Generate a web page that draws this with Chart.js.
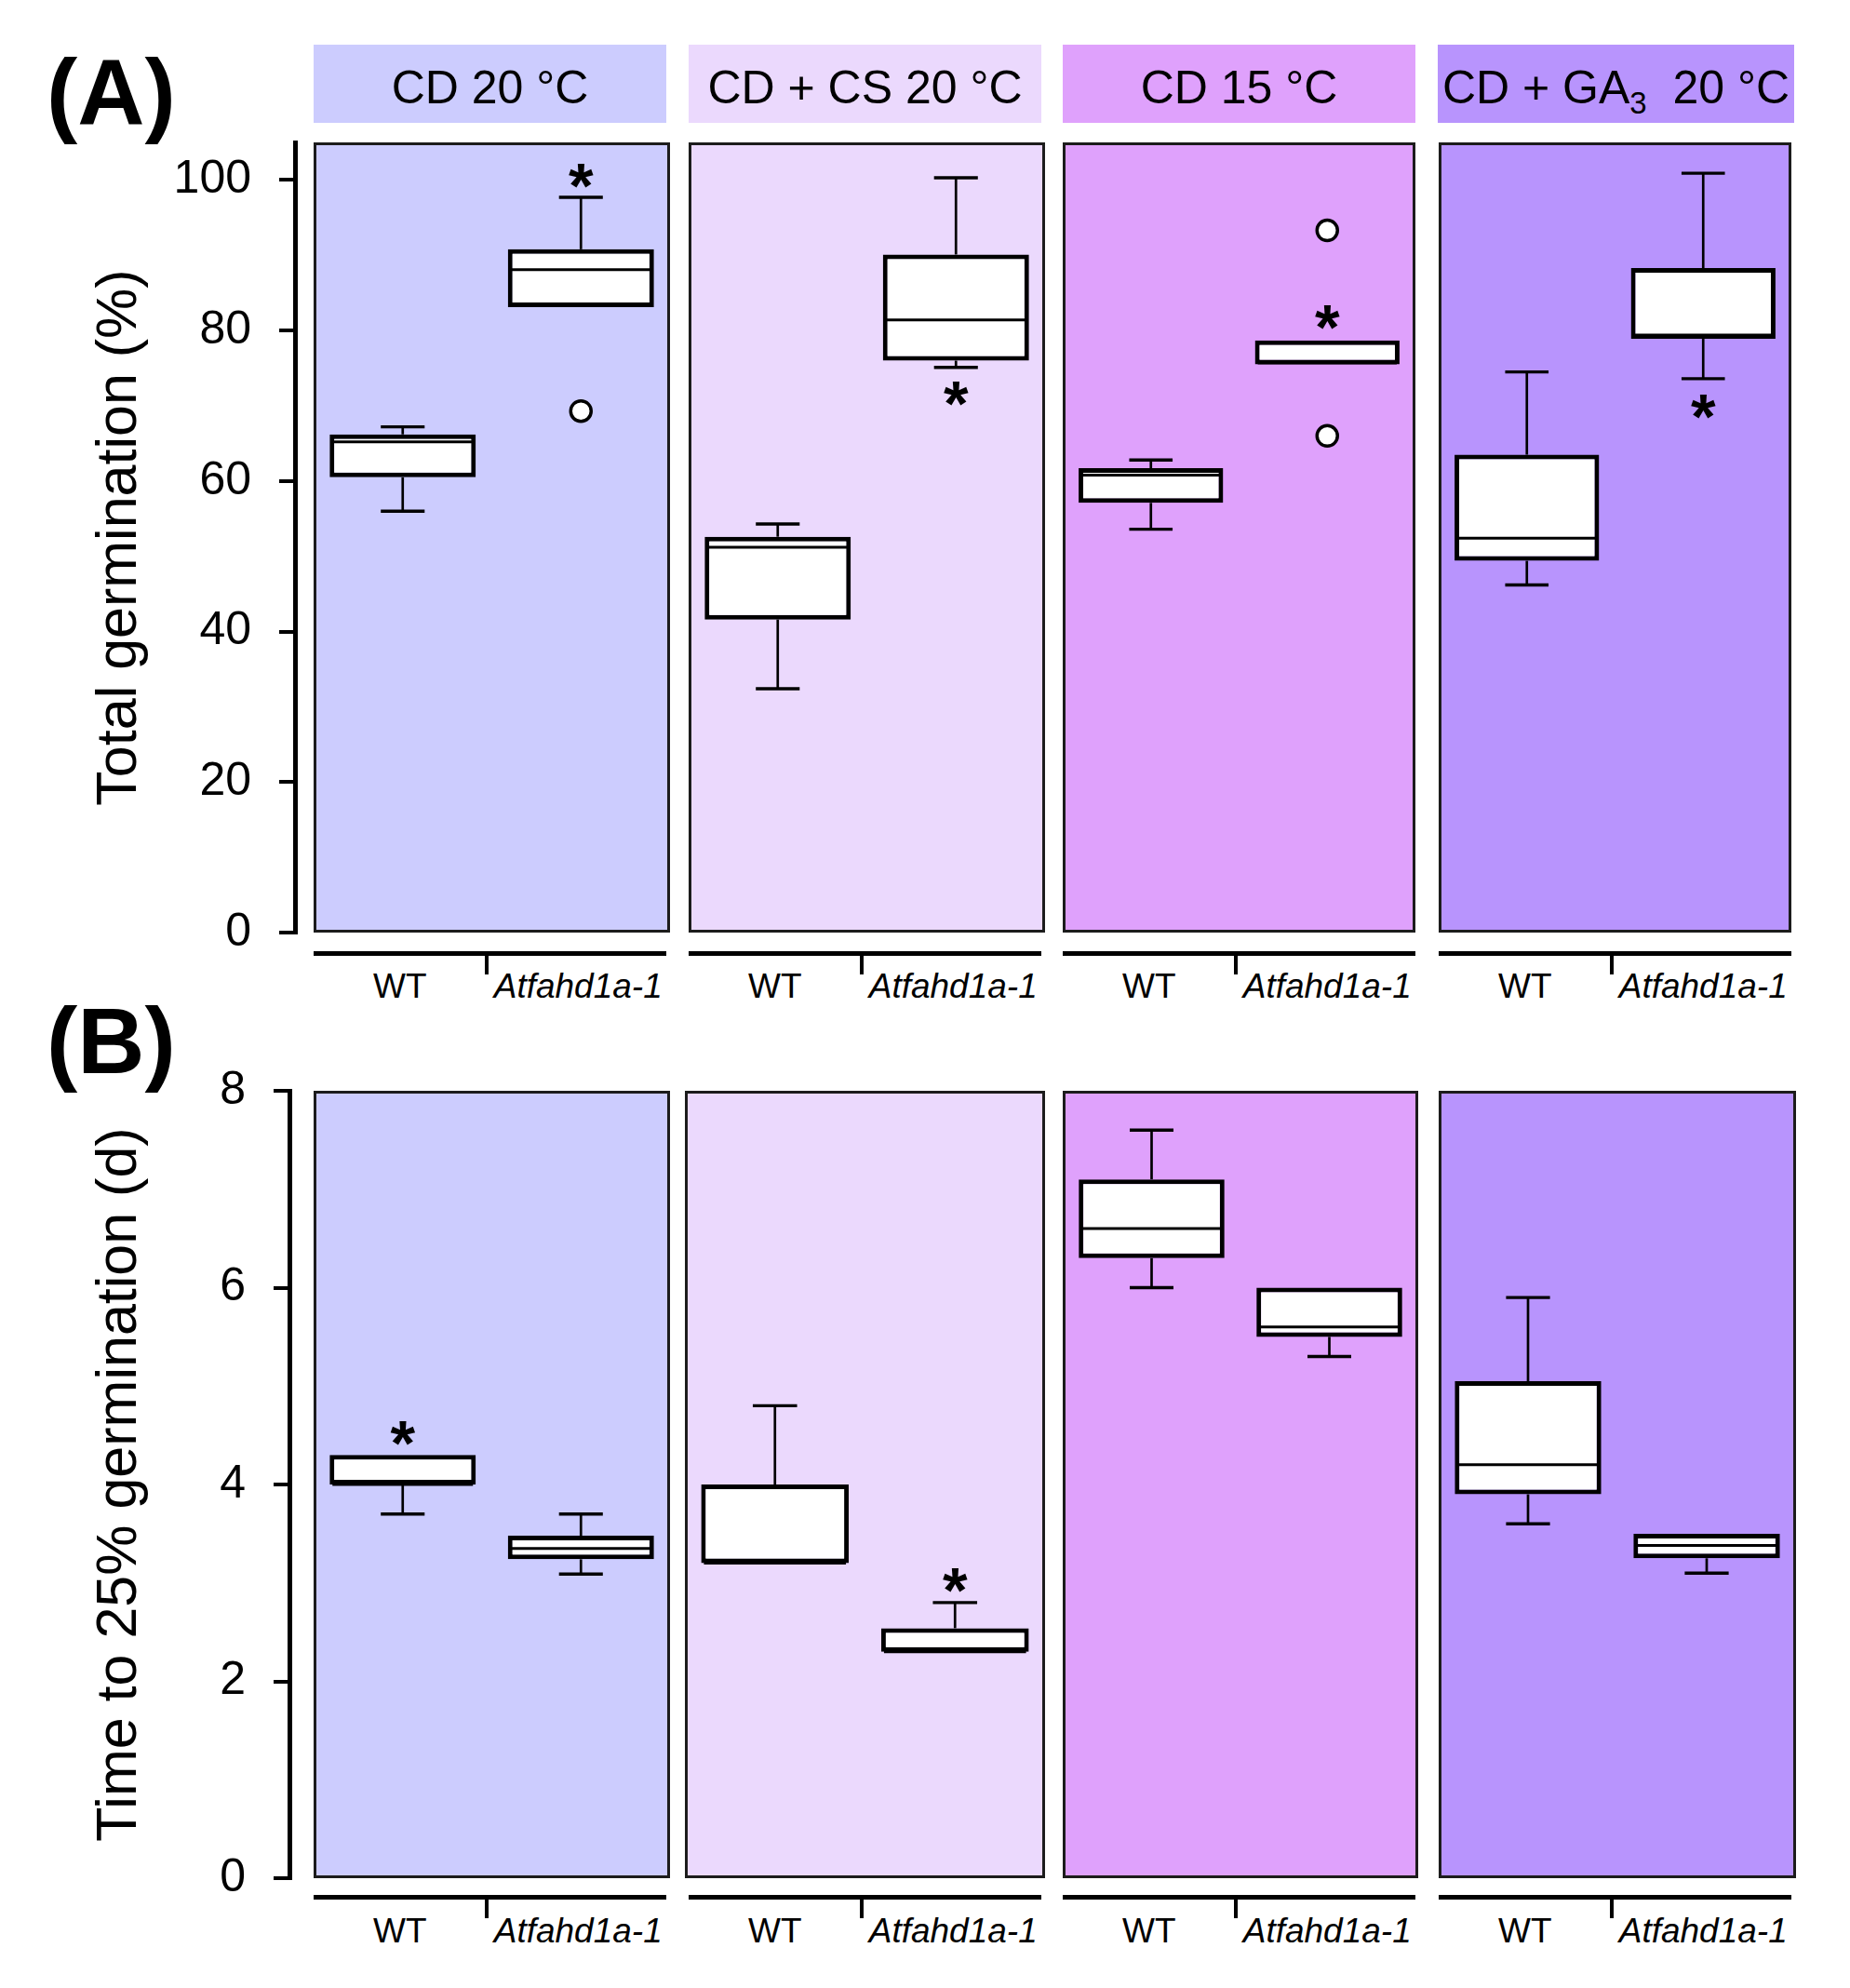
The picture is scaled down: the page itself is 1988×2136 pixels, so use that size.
<!DOCTYPE html>
<html>
<head>
<meta charset="utf-8">
<script src="https://cdn.jsdelivr.net/npm/chart.js@4.4.1/dist/chart.umd.min.js"></script>
<style>
  html, body { margin: 0; background: #fff; }
  #figure {
    position: relative;
    width: 1988px;
    height: 2136px;
    overflow: hidden;
    font-family: "Liberation Sans", Arial, sans-serif;
    color: #000;
  }
  .txt { position: absolute; white-space: nowrap; }
  .blk { position: absolute; }
  sub { font-size: 0.66em; vertical-align: -0.32em; line-height: 0; }
  canvas { display: block; }
</style>
</head>
<body>
<div id="figure"></div>
<script>
const conditions = ["CD 20 °C", "CD + CS 20 °C", "CD 15 °C", "CD + GA<sub>3</sub>&nbsp; 20 °C"];
const genotypes = ["WT", "Atfahd1a-1"];

// (A) total germination (%) — [min, q1, median, q3, max] per condition
const germWT = [
  [56.0, 60.5, 65.2, 66.2, 67.2],
  [32.4, 41.6, 51.2, 52.6, 54.3],
  [53.6, 57.1, 60.8, 61.7, 62.8],
  [46.2, 49.4, 52.4, 63.5, 74.5],
];
const germMut = [
  [83.1, 83.1, 88.1, 90.8, 97.7],
  [75.1, 76.0, 81.4, 90.1, 100.3],
  [75.5, 75.5, 75.7, 78.7, 78.7],
  [73.6, 78.9, 79.4, 88.3, 100.9],
];
const germOutliers = [[[], [69.3]], [[], []], [[], [93.3, 66.0]], [[], []]];
const germStars = [[null, 100.6], [null, 71.6], [null, 81.8], [null, 69.9]];
const germTicks = [0, 20, 40, 60, 80, 100];

// (B) time to 25% germination (d)
const t25WT = [
  [3.7, 4.0, 4.0, 4.3, 4.3],
  [3.2, 3.2, 3.2, 4.0, 4.8],
  [6.0, 6.3, 6.6, 7.1, 7.6],
  [3.6, 3.9, 4.2, 5.05, 5.9],
];
const t25Mut = [
  [3.09, 3.24, 3.35, 3.48, 3.7],
  [2.3, 2.3, 2.3, 2.54, 2.8],
  [5.3, 5.5, 5.6, 6.0, 6.0],
  [3.1, 3.25, 3.38, 3.5, 3.5],
];
const t25Outliers = [[[], []], [[], []], [[], []], [[], []]];
const t25Stars = [[4.52, null], [null, 3.03], [null, null], [null, null]];
const t25Ticks = [0, 2, 4, 6, 8];

const FONT = '"Liberation Sans", Arial, sans-serif';
const panelColors = ["#ccccfe", "#ebd9fd", "#dfa1fc", "#b894fd"];
const headerBoxes = [[337, 716], [740, 1119], [1142, 1521], [1545, 1928]];

const rows = [
  {
    letter: "(A)", letterBase: 134,
    title: "Total germination (%)", max: 105, ticks: germTicks, axisX: 317,
    top: 153, bottom: 1002,
    panels: [[337, 720], [740, 1123], [1142, 1521], [1546, 1925]],
    brackets: [[337, 716], [740, 1119], [1142, 1521], [1546, 1925]],
    bracketY: 1024, labelBase: 1072,
    wt: germWT, mut: germMut, outliers: germOutliers, stars: germStars,
  },
  {
    letter: "(B)", letterBase: 1153,
    title: "Time to 25% germination (d)", max: 8, ticks: t25Ticks, axisX: 311,
    top: 1172, bottom: 2018,
    panels: [[337, 720], [736, 1123], [1142, 1524], [1546, 1930]],
    brackets: [[337, 716], [740, 1119], [1142, 1521], [1546, 1925]],
    bracketY: 2038, labelBase: 2087,
    wt: t25WT, mut: t25Mut, outliers: t25Outliers, stars: t25Stars,
  },
];

Chart.defaults.font.family = FONT;
Chart.defaults.color = "#000";

const fig = document.getElementById("figure");

function addCanvas(left, top, w, h) {
  const c = document.createElement("canvas");
  c.width = w;
  c.height = h;
  c.style.cssText = `position:absolute;left:${left}px;top:${top}px;width:${w}px;height:${h}px`;
  fig.appendChild(c);
  return c;
}

function addBlock(left, top, w, h, color) {
  const el = document.createElement("div");
  el.className = "blk";
  el.style.cssText = `left:${left}px;top:${top}px;width:${w}px;height:${h}px;background:${color}`;
  fig.appendChild(el);
}

// place text by its baseline (Liberation Sans metrics, line-height = 1em)
function addText(html, x, baseline, size, opts = {}) {
  const el = document.createElement("div");
  el.className = "txt";
  el.innerHTML = html;
  el.style.fontSize = size + "px";
  el.style.lineHeight = size + "px";
  el.style.top = baseline - 0.8465 * size + "px";
  el.style.left = x + "px";
  if (opts.italic) el.style.fontStyle = "italic";
  if (opts.bold) el.style.fontWeight = "bold";
  if (opts.center) el.style.transform = "translateX(-50%)";
  fig.appendChild(el);
}

const panelBackground = {
  id: "panelBackground",
  beforeDatasetsDraw(chart, args, opts) {
    const { ctx, chartArea: a } = chart;
    ctx.save();
    ctx.fillStyle = opts.color;
    ctx.fillRect(a.left, a.top, a.width, a.height);
    ctx.strokeStyle = "#1c1c1c";
    ctx.lineWidth = 3;
    ctx.strokeRect(a.left + 1.5, a.top + 1.5, a.width - 3, a.height - 3);
    ctx.restore();
  },
};

function line(ctx, x1, y1, x2, y2) {
  ctx.beginPath();
  ctx.moveTo(x1, y1);
  ctx.lineTo(x2, y2);
  ctx.stroke();
}

const boxDetails = {
  id: "boxDetails",
  afterDatasetsDraw(chart) {
    const { ctx } = chart;
    const y = chart.scales.y;
    chart.data.datasets.forEach((ds, di) => {
      if (!ds.stats) return;
      chart.getDatasetMeta(di).data.forEach((bar, i) => {
        const [min, q1, med, q3, max] = ds.stats[i];
        const cx = bar.x;
        const half = bar.width / 2;
        const capHalf = bar.width * 0.15;
        ctx.save();
        ctx.strokeStyle = "#000";
        [[q3, max], [q1, min]].forEach(([from, to]) => {
          if (Math.abs(to - from) < 1e-6) return;
          const yTo = y.getPixelForValue(to);
          ctx.lineWidth = 2.7;
          line(ctx, cx, y.getPixelForValue(from), cx, yTo);
          ctx.lineWidth = 3.4;
          line(ctx, cx - capHalf, yTo, cx + capHalf, yTo);
        });
        const ym = y.getPixelForValue(med);
        ctx.lineWidth = 3;
        line(ctx, cx - half + 3, ym, cx + half - 3, ym);

        const star = ds.stars[i];
        if (star !== null) {
          ctx.font = `bold 100px ${FONT}`;
          const m = ctx.measureText("*");
          const fs = (26 / (m.actualBoundingBoxAscent + m.actualBoundingBoxDescent)) * 100;
          ctx.font = `bold ${fs}px ${FONT}`;
          const mm = ctx.measureText("*");
          ctx.fillStyle = "#000";
          ctx.textAlign = "center";
          ctx.textBaseline = "alphabetic";
          const sy = y.getPixelForValue(star);
          ctx.fillText("*", cx, sy + (mm.actualBoundingBoxAscent - mm.actualBoundingBoxDescent) / 2);
        }
        ctx.restore();
      });
    });
  },
};

function makeAxis(row) {
  const pad = 75;
  const width = row.panels[0][0];
  const canvas = addCanvas(0, row.top - pad, width, row.bottom - row.top + 2 * pad);
  new Chart(canvas, {
    type: "bar",
    data: { labels: [""], datasets: [] },
    options: {
      animation: false,
      responsive: false,
      events: [],
      layout: { autoPadding: false, padding: { top: pad, bottom: pad, left: 0, right: 0 } },
      plugins: { legend: { display: false }, tooltip: { enabled: false } },
      scales: {
        x: { display: false },
        y: {
          min: 0,
          max: row.max,
          afterBuildTicks: (scale) => {
            scale.ticks = row.ticks.map((v) => ({ value: v }));
          },
          afterFit: (scale) => {
            scale.width = row.axisX;
          },
          ticks: { color: "#000", font: { size: 50 }, padding: 30 },
          grid: { drawOnChartArea: false, color: "#000", lineWidth: 4, tickLength: 17 },
          border: { color: "#000", width: 5 },
          title: {
            display: true,
            text: row.title,
            color: "#000",
            font: { size: 61 },
            padding: { top: 93, bottom: 0 },
          },
        },
      },
    },
  });
}

function makePanel(row, c) {
  const [x0, x1] = row.panels[c];
  const canvas = addCanvas(x0, row.top, x1 - x0, row.bottom - row.top);
  const wt = row.wt[c];
  const mut = row.mut[c];
  const outlierPoints = [];
  row.outliers[c].forEach((list, g) => list.forEach((v) => outlierPoints.push({ x: genotypes[g], y: v })));

  new Chart(canvas, {
    type: "bar",
    data: {
      labels: genotypes,
      datasets: [
        {
          type: "line",
          data: outlierPoints,
          showLine: false,
          pointRadius: 11,
          pointBorderWidth: 3.5,
          pointBackgroundColor: "#fff",
          pointBorderColor: "#000",
          order: 0,
        },
        {
          data: [[wt[1], wt[3]], [mut[1], mut[3]]],
          backgroundColor: "#fff",
          borderColor: "#000",
          borderWidth: 5,
          borderSkipped: false,
          categoryPercentage: 1,
          barPercentage: 0.82,
          order: 1,
          stats: [wt, mut],
          stars: row.stars[c],
        },
      ],
    },
    options: {
      animation: false,
      responsive: false,
      events: [],
      layout: { autoPadding: false, padding: 0 },
      plugins: {
        legend: { display: false },
        tooltip: { enabled: false },
        panelBackground: { color: panelColors[c] },
      },
      scales: {
        x: { display: false },
        y: { display: false, min: 0, max: row.max },
      },
    },
    plugins: [panelBackground, boxDetails],
  });
}

function makeBrackets(row) {
  row.brackets.forEach(([x0, x1]) => {
    const tickX = x0 + (x1 - x0) * 0.49;
    addBlock(x0, row.bracketY - 2.5, x1 - x0, 5, "#000");
    addBlock(tickX - 2, row.bracketY, 4.5, 23, "#000");
    addText(genotypes[0], x0 + (tickX - x0) / 2, row.labelBase, 37, { center: true });
    addText(genotypes[1], tickX + 8, row.labelBase, 37, { italic: true });
  });
}

// condition headers
conditions.forEach((name, c) => {
  const [x0, x1] = headerBoxes[c];
  addBlock(x0, 48, x1 - x0, 84, panelColors[c]);
  addText(name, (x0 + x1) / 2, 111, 50, { center: true });
});

rows.forEach((row) => {
  addText(row.letter, 50, row.letterBase, 100, { bold: true });
  makeAxis(row);
  row.panels.forEach((p, c) => makePanel(row, c));
  makeBrackets(row);
});
</script>
</body>
</html>
